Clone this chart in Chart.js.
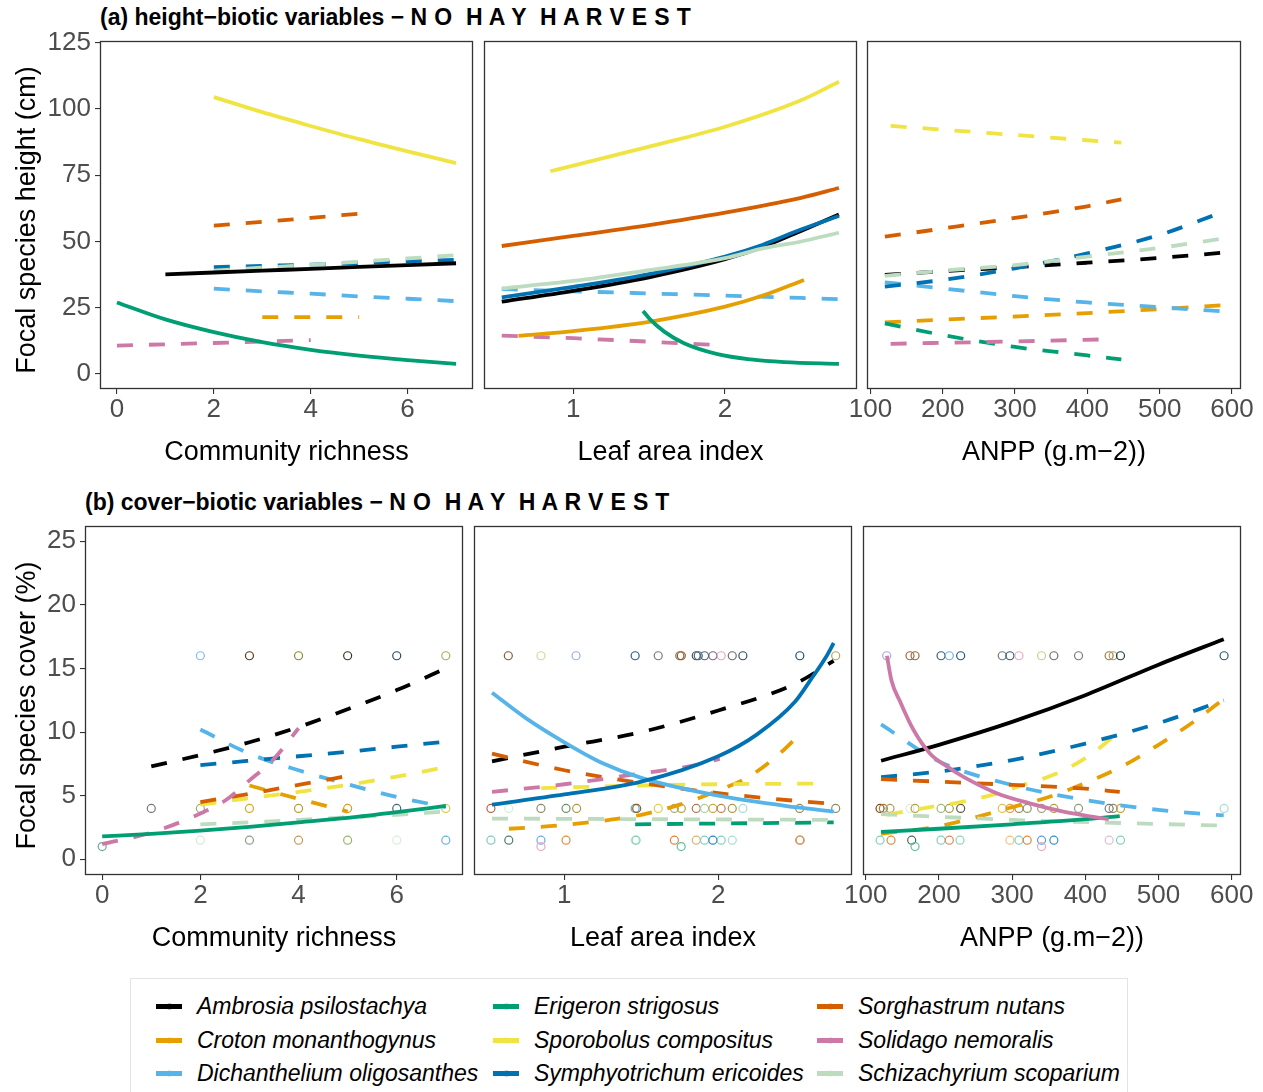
<!DOCTYPE html>
<html><head><meta charset="utf-8">
<script src="https://cdn.jsdelivr.net/npm/chart.js@4"></script>
<style>
html,body{margin:0;padding:0;background:#fff;}
body{width:1263px;height:1092px;position:relative;overflow:hidden;font-family:"Liberation Sans",Arial,Helvetica,sans-serif;}
.ptitle{position:absolute;font-weight:bold;font-size:23px;white-space:pre;color:#000;line-height:1;}
.ptitle span{letter-spacing:0.35px;}
canvas{position:absolute;}
.legend{position:absolute;left:130px;top:978px;width:998px;height:130px;border:1px solid #e3e3e3;box-sizing:border-box;}
.li{position:absolute;font-style:italic;font-size:23px;white-space:nowrap;line-height:1;color:#000;}
.key{position:absolute;width:26px;height:5px;}
.kdot{position:absolute;width:7px;height:7px;border-radius:50%;box-sizing:border-box;border:1.2px solid;opacity:0.3;}
</style></head><body>
<div class="ptitle" style="left:100px;top:6px;">(a) height−biotic variables − <span>N O  H A Y  H A R V E S T</span></div>
<div class="ptitle" style="left:85px;top:491px;">(b) cover−biotic variables − <span>N O  H A Y  H A R V E S T</span></div>
<div class="legend" id="legend"></div>
<script>
// ---------- species ----------
const SPECIES = ["Ambrosia psilostachya","Croton monanthogynus","Dichanthelium oligosanthes","Erigeron strigosus","Sporobolus compositus","Symphyotrichum ericoides","Sorghastrum nutans","Solidago nemoralis","Schizachyrium scoparium"];
const COLORS = ["#000000","#E69F00","#56B4E9","#009E73","#F0E442","#0072B2","#D55E00","#CC79A7","#BDDBBF"];

// ---------- tick labels ----------
const ticksRichness = [0,2,4,6];
const ticksLAI = [1,2];
const ticksANPP = [100,200,300,400,500,600];
const ticksHeight = [0,25,50,75,100,125];
const ticksCover = [0,5,10,15,20,25];

// ---------- (a) height ~ community richness ----------
const a1_amb = [[1,37.6],[2,38.3],[3,39.0],[4,39.7],[5,40.4],[6,41.1],[7,41.8]];
const a1_cro = [[3,21.5],[4,21.5],[5,21.5]];
const a1_dic = [[2,32.2],[3,31.2],[4,30.3],[5,29.3],[6,28.4],[7,27.5]];
const a1_eri = [[0,27.0],[1,20.6],[2,15.8],[3,12.0],[4,9.1],[5,6.9],[6,5.2],[7,3.8]];
const a1_spo = [[2,104.5],[3,98.8],[4,93.6],[5,88.6],[6,84.0],[7,79.6]];
const a1_sym = [[2,40.3],[3,40.8],[4,41.3],[5,41.9],[6,42.5],[7,43.1]];
const a1_sor = [[2,56.0],[3,57.4],[4,58.9],[5,60.5]];
const a1_sol = [[0,10.7],[1,11.2],[2,11.7],[3,12.2],[4,12.8]];
const a1_sch = [[2,39.0],[3,40.1],[4,41.2],[5,42.4],[6,43.6],[7,44.8]];
const a1_sig = ["solid","dashed","dashed","solid","solid","dashed","dashed","dashed","dashed"];

// ---------- (a) height ~ leaf area index ----------
const a2_amb = [[0.53,27.3],[1.0,31.4],[1.5,36.5],[2.0,43.3],[2.25,48.0],[2.5,54.0],[2.75,60.2]];
const a2_cro = [[0.64,14.4],[1.0,16.2],[1.5,19.7],[2.0,25.4],[2.25,29.6],[2.52,35.5]];
const a2_dic = [[0.53,32.0],[1.0,31.2],[1.5,30.4],[2.0,29.6],[2.5,28.7],[2.75,28.2]];
const a2_eri = [[1.46,23.8],[1.51,20.4],[1.6,16.0],[1.73,11.6],[1.95,7.5],[2.17,5.5],[2.39,4.5],[2.75,3.8]];
const a2_spo = [[0.85,76.5],[1.0,78.6],[1.5,85.8],[2.0,93.3],[2.5,103.3],[2.75,110.3]];
const a2_sym = [[0.53,28.9],[1.0,32.9],[1.5,37.7],[2.0,44.3],[2.25,48.8],[2.5,54.5],[2.75,59.6]];
const a2_sor = [[0.53,48.3],[1.0,52.1],[1.5,56.2],[2.0,60.9],[2.5,66.5],[2.75,70.2]];
const a2_sol = [[0.53,14.5],[1.0,13.5],[1.5,12.2],[1.95,10.9]];
const a2_sch = [[0.53,32.3],[1.0,35.1],[1.5,39.2],[2.0,43.7],[2.25,47.4],[2.5,50.0],[2.75,53.3]];
const a2_sig = ["solid","solid","dashed","solid","solid","solid","solid","dashed","solid"];

// ---------- (a) height ~ ANPP ----------
const a3_amb = [[120,37.4],[200,38.8],[300,40.3],[400,42.0],[500,43.8],[589,45.8]];
const a3_cro = [[120,19.5],[200,20.5],[300,21.7],[400,23.0],[500,24.5],[589,26.0]];
const a3_dic = [[120,34.6],[200,32.3],[300,29.4],[400,27.0],[500,25.2],[589,23.6]];
const a3_eri = [[120,19.1],[200,14.7],[300,10.2],[400,7.0],[447,5.5]];
const a3_spo = [[128,93.6],[200,92.2],[300,90.2],[400,88.2],[447,87.3]];
const a3_sym = [[120,33.0],[200,35.5],[300,39.9],[400,45.5],[500,52.5],[589,61.3]];
const a3_sor = [[120,51.8],[200,54.9],[300,58.9],[400,63.3],[447,65.9]];
const a3_sol = [[128,11.4],[300,12.3],[430,13.1]];
const a3_sch = [[120,37.0],[200,39.0],[300,41.1],[400,44.3],[500,47.6],[589,51.2]];
const a3_sig = ["dashed","dashed","dashed","dashed","dashed","dashed","dashed","dashed","dashed"];

// ---------- (b) cover ~ community richness ----------
const b1_amb = [[1,7.3],[2,8.2],[3,9.2],[4,10.4],[5,11.8],[6,13.3],[7,15.0]];
const b1_cro = [[3,5.8],[4,4.75],[5,3.75]];
const b1_dic = [[2,10.2],[3,8.3],[4,7.0],[5,5.9],[6,4.9],[7,4.1]];
const b1_eri = [[0,1.8],[1,2.0],[2,2.25],[3,2.55],[4,2.9],[5,3.25],[6,3.7],[7,4.2]];
const b1_spo = [[2,4.3],[3,4.8],[4,5.3],[5,5.85],[6,6.5],[7,7.25]];
const b1_sym = [[2,7.4],[3,7.75],[4,8.1],[5,8.45],[6,8.85],[7,9.25]];
const b1_sor = [[2,4.5],[3,5.15],[4,5.85],[5,6.55]];
const b1_sol = [[0,1.2],[1,2.1],[2,3.6],[2.5,4.6],[3,6.2],[3.5,7.9],[4,10.3]];
const b1_sch = [[2,2.75],[3,2.9],[4,3.1],[5,3.3],[6,3.5],[7,3.75]];
const b1_sig = ["dashed","dashed","dashed","solid","dashed","dashed","dashed","dashed","dashed"];
const b1_obsX = [2,3,4,5,6,7, 1,2,3,4,5,6,7, 2,3,4,5,6,7, 0];
const b1_obsY = [16,16,16,16,16,16, 4,4,4,4,4,4,4, 1.5,1.5,1.5,1.5,1.5,1.5, 1];

// ---------- (b) cover ~ leaf area index ----------
const b2_amb = [[0.53,7.7],[1.0,8.85],[1.5,10.0],[2.0,11.7],[2.5,13.8],[2.75,15.6]];
const b2_cro = [[0.64,2.4],[1.0,2.7],[1.5,3.5],[1.75,4.3],[2.0,5.4],[2.2,6.5],[2.37,8.0],[2.52,9.7]];
const b2_dic = [[0.53,13.1],[0.75,11.1],[1.0,9.2],[1.25,7.55],[1.5,6.4],[2.0,5.0],[2.5,4.1],[2.75,3.75]];
const b2_eri = [[1.46,2.75],[2.75,2.9]];
const b2_spo = [[0.85,5.6],[1.5,5.8],[2.0,5.9],[2.66,5.95]];
const b2_sym = [[0.53,4.3],[1.0,5.1],[1.5,6.1],[2.0,8.1],[2.25,9.8],[2.5,12.4],[2.6,14.1],[2.7,15.9],[2.75,17.0]];
const b2_sor = [[0.53,8.3],[1.0,7.0],[1.5,6.0],[2.0,5.2],[2.5,4.6],[2.75,4.35]];
const b2_sol = [[0.53,5.3],[1.0,5.9],[1.5,6.75],[1.85,7.4],[2.01,7.9]];
const b2_sch = [[0.53,3.2],[2.75,3.1]];
const b2_sig = ["dashed","dashed","solid","dashed","dashed","solid","dashed","dashed","dashed"];
const b2_obsX = [0.636,0.848,1.076,1.46,1.61,1.75,1.76,1.857,1.87,1.911,1.965,2.019,2.091,2.16,2.53,2.763,
                 0.523,0.639,0.848,1.011,1.08,1.46,1.47,1.61,1.715,1.76,1.857,1.911,1.965,2.019,2.091,2.16,2.529,2.763,
                 0.523,0.639,0.848,1.011,1.46,1.466,1.715,1.857,1.911,1.965,2.019,2.091,2.529,2.533,
                 0.848,1.759];
const b2_obsY = [16,16,16,16,16,16,16,16,16,16,16,16,16,16,16,16,
                 4,4,4,4,4,4,4,4,4,4,4,4,4,4,4,4,4,4,
                 1.5,1.5,1.5,1.5,1.5,1.5,1.5,1.5,1.5,1.5,1.5,1.5,1.5,1.5,
                 1,1];

// ---------- (b) cover ~ ANPP ----------
const b3_amb = [[121,7.75],[200,9.0],[300,10.8],[400,12.9],[500,15.3],[589,17.3]];
const b3_cro = [[121,2.0],[200,2.6],[300,4.1],[350,4.9],[400,6.0],[450,7.3],[500,9.0],[550,10.9],[589,12.6]];
const b3_dic = [[121,10.6],[200,7.7],[300,5.84],[400,4.66],[500,3.88],[589,3.45]];
const b3_eri = [[121,2.15],[200,2.4],[300,2.75],[400,3.15],[447,3.4]];
const b3_spo = [[129,3.5],[182,4.05],[226,4.45],[275,5.1],[318,5.9],[359,6.7],[400,7.95],[435,9.5],[443,9.95]];
const b3_sym = [[121,6.45],[200,6.9],[300,7.8],[400,9.1],[500,10.7],[589,12.5]];
const b3_sor = [[121,6.3],[200,6.1],[300,5.85],[400,5.55],[447,5.3]];
const b3_sol = [[129,16.0],[135,14.1],[147,12.4],[165,10.2],[188,8.3],[211,7.3],[233,6.5],[279,5.2],[324,4.4],[370,3.75],[415,3.3],[432,3.15]];
const b3_sch = [[121,3.55],[300,3.1],[450,2.85],[589,2.65]];
const b3_sig = ["solid","dashed","dashed","solid","dashed","dashed","dashed","solid","dashed"];
const b3_obsX = [128.7,160.5,167.4,202.9,214.2,229.7,286.5,297,309.3,340.2,357,390.7,432.5,438,448,589.5,
                 119.6,124.1,133.2,160.5,167.4,202.9,214.2,229.7,286.5,297,309.3,320.6,340.2,357,390.7,432.5,438,448,589.5,
                 119.6,134.6,162.8,202.9,214.2,228.8,297,309.3,320.6,340.2,357,432.5,448,
                 167.4,340.2];
const b3_obsY = [16,16,16,16,16,16,16,16,16,16,16,16,16,16,16,16,
                 4,4,4,4,4,4,4,4,4,4,4,4,4,4,4,4,4,4,4,
                 1.5,1.5,1.5,1.5,1.5,1.5,1.5,1.5,1.5,1.5,1.5,1.5,1.5,
                 1,1];

// ---------- styles (colours of overlapping observation circles) ----------
const b1_obsCol = ["#7dbfe8","#5c3a1e","#8a8a30","#3e3226","#2b4a66","#b4ab55",
  "#777777","#a6a878","#d4a52a","#b89a2c","#d89a22","#4b6475","#cfc85a",
  "#d5ead5","#8f9b86","#c8995a","#98b562","#d9ecd9","#66b1e5","#6fa89e"];
const b2_obsCol = ["#8a5a3a","#c5e09a","#9aaee0","#2d5f8a","#7a7a7a","#9a6a40","#8a5a3a","#3f4f5f","#46677a","#4a6a7a","#7a6a7a","#e6a6c6","#6f6f6f","#2f5560","#1f4f6f","#b4a65a",
  "#a8684a","#d6ecd8","#8a8a6a","#6f8f6a","#b09a40","#5fb0a8","#8a5a30","#e0cc50","#a0b080","#b0a040","#b07a50","#a8d0a8","#c8a840","#c08050","#a89a40","#a8d8d8","#9a8a50","#8a8a6a",
  "#7fc6c2","#4f7a6a","#6aaedf","#e08a40","#c8e8d8","#7fd0b8","#e08040","#e0b070","#7fd0c0","#2f82c8","#7fd0c0","#a8dcd8","#e08a50","#d0a070",
  "#e8a8c8","#5fc0a0"];
const b3_obsCol = ["#a8a8e0","#9a6a40","#9a6a40","#3f5f6f","#6ab4e6","#1f5a7f","#777777","#2f5f7f","#e8a8c8","#b8d890","#6f6f6f","#7a7a7a","#9a7a50","#b0a050","#1f3f4f","#2f5f5f",
  "#7a4a20","#b07a30","#a0a060","#d8ecd8","#b0a040","#a0b880","#a0a050","#5a5a40","#e0c050","#e09a50","#a08a60","#7f9a6a","#a0a080","#b0a040","#8f9a80","#777777","#8a8a70","#c89a30","#a8dcd8",
  "#7fd0c0","#e08a40","#4f6a5a","#7fd0c0","#e08a50","#8fd0c0","#f0c080","#7fd0c0","#e08a40","#5a9ad8","#3a8ad0","#d8c0d8","#7fd0b8",
  "#5fc0a0","#e8a8c8"];

const FONT = '"Liberation Sans", Arial, Helvetica, sans-serif';

const boxPlugin = {
  id: 'panelBox',
  afterDraw(chart) {
    const {ctx, chartArea: a} = chart;
    ctx.save();
    ctx.strokeStyle = '#333333';
    ctx.lineWidth = 1.3;
    ctx.strokeRect(Math.round(a.left) + 0.5, Math.round(a.top) + 0.5,
                   Math.round(a.right - a.left) - 1, Math.round(a.bottom - a.top) - 1);
    ctx.restore();
  }
};

const yTitlePlugin = {
  id: 'yTitleText',
  afterDraw(chart, args, opts) {
    if (!opts || !opts.text) return;
    const {ctx, chartArea: a} = chart;
    ctx.save();
    ctx.translate(opts.x, (a.top + a.bottom) / 2 + opts.dy);
    ctx.rotate(-Math.PI / 2);
    ctx.font = '27px ' + FONT;
    ctx.fillStyle = '#000';
    ctx.textAlign = 'center';
    ctx.textBaseline = 'alphabetic';
    ctx.fillText(opts.text, 0, 0);
    ctx.restore();
  }
};

function makePanel(p) {
  const Wy = p.showY ? p.L : 30;
  const padTop = 12, padRight = 16, Hx = 85;
  const cw = Math.round(Wy + (p.R - p.L) + padRight);
  const ch = Math.round(padTop + (p.B - p.T) + Hx);
  const cv = document.createElement('canvas');
  cv.width = cw; cv.height = ch;
  cv.style.left = (p.L - Wy) + 'px';
  cv.style.top = (p.T - padTop) + 'px';
  cv.style.width = cw + 'px'; cv.style.height = ch + 'px';
  document.body.appendChild(cv);

  const datasets = [];
  if (p.obsX) {
    datasets.push({
      data: p.obsX.map((x, i) => ({x: x, y: p.obsY[i]})),
      showLine: false, pointRadius: 4, pointBorderWidth: 1.2,
      pointBorderColor: p.obsCol, pointBackgroundColor: 'rgba(0,0,0,0)',
      order: 1000
    });
  }
  ['dashed', 'solid'].forEach((lt, li) => {
    p.series.forEach((s, k) => {
      if (p.sig[k] !== lt) return;
      datasets.push({
        data: s.map(d => ({x: d[0], y: d[1]})),
        showLine: true, borderColor: COLORS[k], borderWidth: 3.8,
        borderDash: lt === 'dashed' ? [16, 16] : [],
        borderCapStyle: 'butt',
        pointRadius: 0, cubicInterpolationMode: 'monotone',
        order: 999 - (li * 10 + k)
      });
    });
  });

  new Chart(cv, {
    type: 'scatter',
    data: {datasets},
    options: {
      responsive: false, animation: false, events: [],
      layout: {padding: {top: padTop, right: padRight, left: 0, bottom: 0}},
      plugins: {legend: {display: false}, tooltip: {enabled: false},
        yTitleText: {text: p.showY ? p.yTitle : '', x: 34.5, dy: 5}},
      scales: {
        x: {
          type: 'linear', min: p.xmin, max: p.xmax,
          afterBuildTicks: s => { s.ticks = p.xticks.map(v => ({value: v})); },
          afterFit: s => { s.height = Hx; s.paddingLeft = 0; s.paddingRight = 0; },
          grid: {display: true, drawOnChartArea: false, drawTicks: true, tickLength: 5, color: '#333333', lineWidth: 1.1},
          border: {display: false},
          ticks: {color: '#4D4D4D', font: {family: FONT, size: 26}, padding: 0, maxRotation: 0, autoSkip: false, callback: v => String(v)},
          title: {display: true, text: p.xTitle, color: '#000', font: {family: FONT, size: 27}, padding: {top: 0, bottom: Hx - 79.4}}
        },
        y: {
          type: 'linear', min: p.ymin, max: p.ymax,
          afterBuildTicks: s => { s.ticks = p.yticks.map(v => ({value: v})); },
          afterFit: s => { s.width = Wy; s.paddingTop = 0; s.paddingBottom = 0; },
          grid: {display: p.showY, drawOnChartArea: false, drawTicks: true, tickLength: 5, color: '#333333', lineWidth: 1.1},
          border: {display: false},
          ticks: {display: p.showY, color: '#4D4D4D', font: {family: FONT, size: 26}, padding: 4, autoSkip: false, callback: v => String(v)},
          title: {display: false}
        }
      }
    },
    plugins: [boxPlugin, yTitlePlugin]
  });
}

const TA = 41, BA = 389, TB = 526, BB = 875;
makePanel({L:100, R:473, T:TA, B:BA, xmin:-0.35, xmax:7.35, ymin:-5.66, ymax:125.66, xticks:ticksRichness, yticks:ticksHeight, showY:true,
  xTitle:'Community richness', yTitle:'Focal species height (cm)',
  series:[a1_amb,a1_cro,a1_dic,a1_eri,a1_spo,a1_sym,a1_sor,a1_sol,a1_sch], sig:a1_sig});
makePanel({L:484, R:857, T:TA, B:BA, xmin:0.413, xmax:2.869, ymin:-5.66, ymax:125.66, xticks:ticksLAI, yticks:ticksHeight, showY:false,
  xTitle:'Leaf area index',
  series:[a2_amb,a2_cro,a2_dic,a2_eri,a2_spo,a2_sym,a2_sor,a2_sol,a2_sch], sig:a2_sig});
makePanel({L:867, R:1241, T:TA, B:BA, xmin:95.3, xmax:612.5, ymin:-5.66, ymax:125.66, xticks:ticksANPP, yticks:ticksHeight, showY:false,
  xTitle:'ANPP (g.m−2))',
  series:[a3_amb,a3_cro,a3_dic,a3_eri,a3_spo,a3_sym,a3_sor,a3_sol,a3_sch], sig:a3_sig});
makePanel({L:85, R:463, T:TB, B:BB, xmin:-0.35, xmax:7.35, ymin:-1.234, ymax:26.2, xticks:ticksRichness, yticks:ticksCover, showY:true,
  xTitle:'Community richness', yTitle:'Focal species cover (%)',
  series:[b1_amb,b1_cro,b1_dic,b1_eri,b1_spo,b1_sym,b1_sor,b1_sol,b1_sch], sig:b1_sig,
  obsX:b1_obsX, obsY:b1_obsY, obsCol:b1_obsCol});
makePanel({L:474, R:852, T:TB, B:BB, xmin:0.413, xmax:2.869, ymin:-1.234, ymax:26.2, xticks:ticksLAI, yticks:ticksCover, showY:false,
  xTitle:'Leaf area index',
  series:[b2_amb,b2_cro,b2_dic,b2_eri,b2_spo,b2_sym,b2_sor,b2_sol,b2_sch], sig:b2_sig,
  obsX:b2_obsX, obsY:b2_obsY, obsCol:b2_obsCol});
makePanel({L:863, R:1241, T:TB, B:BB, xmin:96.3, xmax:612.6, ymin:-1.234, ymax:26.2, xticks:ticksANPP, yticks:ticksCover, showY:false,
  xTitle:'ANPP (g.m−2))',
  series:[b3_amb,b3_cro,b3_dic,b3_eri,b3_spo,b3_sym,b3_sor,b3_sol,b3_sch], sig:b3_sig,
  obsX:b3_obsX, obsY:b3_obsY, obsCol:b3_obsCol});

// ---------- legend ----------
const legendOrder = [0,3,6, 1,4,7, 2,5,8];
const colKey = [155, 492, 816], colText = [196, 533, 857], rowY = [1005, 1039, 1072];
const lg = document.getElementById('legend');
legendOrder.forEach((k, i) => {
  const r = Math.floor(i / 3), c = i % 3;
  const key = document.createElement('div');
  key.className = 'key';
  key.style.left = (colKey[c] - 130) + 'px';
  key.style.top = (rowY[r] - 978 - 2.5) + 'px';
  key.style.background = COLORS[k];
  lg.appendChild(key);
  const dot = document.createElement('div');
  dot.className = 'kdot';
  dot.style.left = (colKey[c] - 130 + 9.5) + 'px';
  dot.style.top = (rowY[r] - 978 - 3.5) + 'px';
  dot.style.borderColor = COLORS[k];
  lg.appendChild(dot);
  const t = document.createElement('div');
  t.className = 'li';
  t.textContent = SPECIES[k];
  t.style.left = (colText[c] - 130) + 'px';
  t.style.top = (rowY[r] - 978 - 11.5) + 'px';
  lg.appendChild(t);
});
</script>
</body></html>
